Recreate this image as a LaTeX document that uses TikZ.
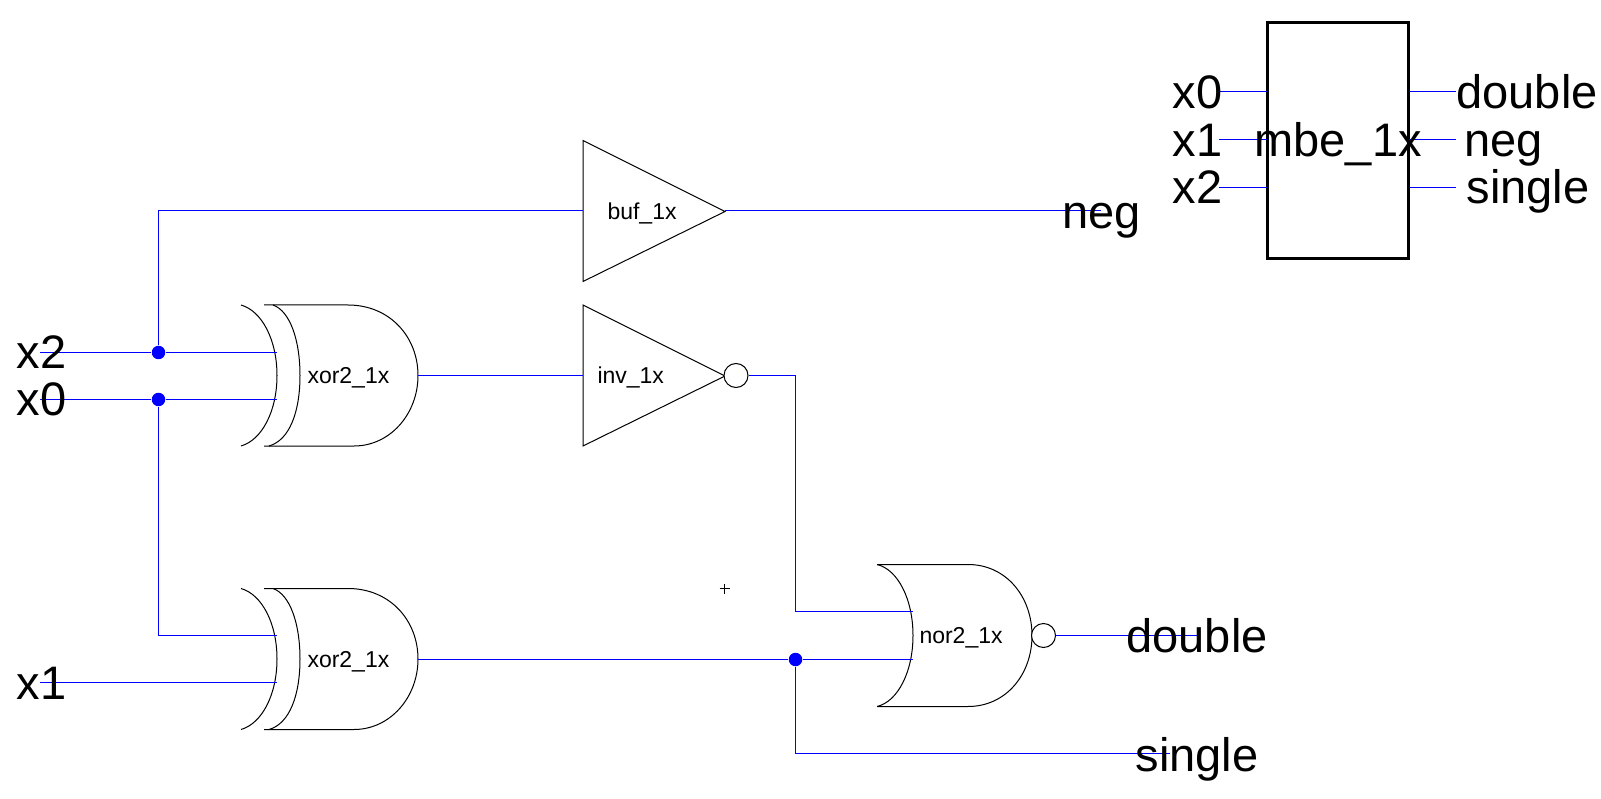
\documentclass[tikz,border=0pt]{standalone}
\usepackage{fontspec}
\setmainfont{Liberation Sans}
\begin{document}
\begin{tikzpicture}[x=1pt,y=-1pt,line width=1pt,
  wire/.style={draw={rgb,255:red,0;green,0;blue,255},line width=1pt},
  gateline/.style={draw=black,line width=1pt},
  bigtext/.style={anchor=base west,inner sep=0pt,font=\fontsize{47}{47}\selectfont},
  smalltext/.style={anchor=base west,inner sep=0pt,font=\fontsize{23}{23}\selectfont},
  junction/.style={circle,fill={rgb,255:red,0;green,0;blue,255},inner sep=0pt,minimum size=13.5pt},
  bubble/.style={circle,draw=black,line width=1pt,fill=white,inner sep=0pt,minimum size=24pt},
  xorgate/.pic={
    \draw[gateline] (241,0) .. controls (262,6) and (277,35) .. (277,70.5) .. controls (277,106) and (262,135) .. (241,141);
    \draw[gateline] (264,0) -- (273,0) .. controls (290,6) and (300,35) .. (300,70.5) .. controls (300,106) and (290,135) .. (269,141) -- (264,141);
    \draw[gateline] (273,0) -- (348,0) .. controls (390,0) and (418,32) .. (418,70.5) .. controls (418,109) and (390,141) .. (354,141) -- (269,141);
  },
  norgate/.pic={
    \draw[gateline] (877,0) -- (968,0) .. controls (1006,0) and (1032,32) .. (1032,71) .. controls (1032,110) and (1006,142) .. (968,142) -- (877,142);
    \draw[gateline] (877,0) .. controls (898,5) and (913,35) .. (913,71) .. controls (913,107) and (898,137) .. (877,142);
  },
  tripic/.pic={
    \draw[gateline] (0,0) -- (142,71) -- (0,141) -- cycle;
  }]
\useasboundingbox (0,0) rectangle (1601,799);
\fill[white] (0,0) rectangle (1601,799);

% pin coordinates
\coordinate (x2s) at (40,352.5);
\coordinate (x0s) at (40,399.5);
\coordinate (x1s) at (40,682.5);
\coordinate (x2e) at (277,352.5);
\coordinate (x0e) at (277,399.5);
\coordinate (x0f) at (277,635.5);
\coordinate (x1e) at (277,682.5);
\coordinate (bufin) at (583,210.5);
\coordinate (bufout) at (725,210.5);
\coordinate (negend) at (1101,210.5);
\coordinate (xoraout) at (418,375.5);
\coordinate (invin) at (583,375.5);
\coordinate (xorbout) at (418,659.5);
\coordinate (nora) at (913,611.5);
\coordinate (norb) at (913,659.5);
\coordinate (dblend) at (1197,635.5);
\coordinate (sglend) at (1170,753.5);
\coordinate (cA) at (1219,91.5);
\coordinate (cB) at (1219,139.5);
\coordinate (cC) at (1219,187.5);
\coordinate (cD) at (1456,91.5);
\coordinate (cE) at (1456,139.5);
\coordinate (cF) at (1456,187.5);

% gates
\pic at (0,305) {xorgate};
\pic at (0,588.5) {xorgate};
\pic at (0,564.5) {norgate};
\pic at (583,140.5) {tripic};
\pic at (583,305) {tripic};
\node[bubble] (invb) at (736,375.5) {};
\node[bubble] (norbb) at (1043.5,635.5) {};

% junctions
\node[junction] (ja) at (158.5,352.5) {};
\node[junction] (jb) at (158.5,399.5) {};
\node[junction] (jc) at (795.5,659.5) {};

% module box
\node[draw=black,line width=3pt,minimum width=141.5pt,minimum height=236pt,inner sep=0pt,outer sep=0pt,anchor=north west] (mbe) at (1267,23) {};

% wires
\draw[wire] (x2s) -- (ja) -- (x2e);
\draw[wire] (x0s) -- (jb) -- (x0e);
\draw[wire] (ja) -- (ja |- bufin) -- (bufin);
\draw[wire] (jb) -- (jb |- x0f) -- (x0f);
\draw[wire] (x1s) -- (x1e);
\draw[wire] (bufout) -- (negend);
\draw[wire] (xoraout) -- (invin);
\draw[wire] (invb.east) -- (jc |- invb.east) -- (jc |- nora) -- (nora);
\draw[wire] (xorbout) -- (jc) -- (norb);
\draw[wire] (jc) -- (jc |- sglend) -- (sglend);
\draw[wire] (norbb.east) -- (dblend);
\draw[wire] (cA) -- (cA -| mbe.west);
\draw[wire] (cB) -- (cB -| mbe.west);
\draw[wire] (cC) -- (cC -| mbe.west);
\draw[wire] (cD -| mbe.east) -- (cD);
\draw[wire] (cE -| mbe.east) -- (cE);
\draw[wire] (cF -| mbe.east) -- (cF);

% plus mark
\coordinate (plusc) at (724.5,588.5);
\draw[black,line width=0.8pt] ([xshift=-5pt]plusc) -- ([xshift=5pt]plusc);
\draw[black,line width=0.8pt] ([yshift=-5pt]plusc) -- ([yshift=5pt]plusc);

% labels
\node[bigtext] (lx2) at (16,369) {x2};
\node[bigtext] (lx0) at (16,416) {x0};
\node[bigtext] (lx1) at (16,699) {x1};
\node[bigtext] (lneg) at (1062,229) {neg};
\node[bigtext] (ldouble) at (1126,652) {double};
\node[bigtext] (lsingle) at (1135,771) {single};
\node[bigtext] (tx0) at (1172,109) {x0};
\node[bigtext] (tx1) at (1172,157) {x1};
\node[bigtext] (tx2) at (1172,204) {x2};
\node[bigtext] (tdouble) at (1456,109) {double};
\node[bigtext] (tneg) at (1464,157) {neg};
\node[bigtext] (tsingle) at (1466,204) {single};
\node[bigtext] (tmbe) at (1254,157) {mbe\_1x};
\node[smalltext] (s1) at (607,220) {buf\_1x};
\node[smalltext] (s2) at (597,384) {inv\_1x};
\node[smalltext] (s3) at (307,384) {xor2\_1x};
\node[smalltext] (s4) at (307,667) {xor2\_1x};
\node[smalltext] (s5) at (919,643) {nor2\_1x};
\end{tikzpicture}
\end{document}
